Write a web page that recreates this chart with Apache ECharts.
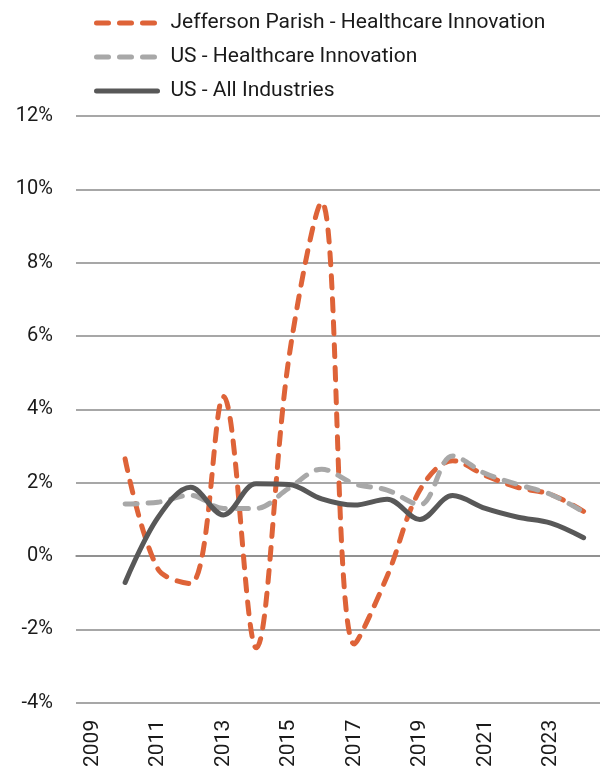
<!DOCTYPE html>
<html>
<head>
<meta charset="utf-8">
<script src="https://cdn.jsdelivr.net/npm/echarts@6/dist/echarts.min.js"></script>
<style>
  html, body { margin: 0; padding: 0; background: #ffffff; }
  #chart { width: 600px; height: 770px; }
</style>
</head>
<body>
<div id="chart"></div>
<script>
// Annual employment growth, % change
const years = ['2009', '2010', '2011', '2012', '2013', '2014', '2015', '2016',
               '2017', '2018', '2019', '2020', '2021', '2022', '2023', '2024'];

const jeffersonHealthcare = [null, 2.65, -0.35, -0.75, 4.35, -2.5, 5.4, 9.65,
                             -2.4, -0.55, 1.8, 2.6, 2.2, 1.87, 1.68, 1.22];
const usHealthcare = [null, 1.42, 1.47, 1.66, 1.3, 1.3, 1.85, 2.37,
                      1.97, 1.8, 1.4, 2.73, 2.25, 1.95, 1.68, 1.2];
const usAllIndustries = [null, -0.72, 1.05, 1.88, 1.12, 1.97, 1.95, 1.56,
                         1.39, 1.55, 1.0, 1.65, 1.3, 1.06, 0.9, 0.5];

const seriesNames = ['Jefferson Parish - Healthcare Innovation',
                     'US - Healthcare Innovation',
                     'US - All Industries'];
const seriesColors = ['#de6338', '#a8a8a8', '#585858'];
const seriesDashed = [true, true, false];

const yMin = -4, yMax = 12, yStep = 2;

const FONT = 'Roboto, "Liberation Sans", sans-serif';
const TEXT = '#1a1a1a';
const GRID = '#8a8a8a';
const DASH = [12, 11];

function lineStyleFor(i) {
  return {
    color: seriesColors[i],
    width: 5,
    type: seriesDashed[i] ? DASH : 'solid',
    cap: 'round',
    join: 'round'
  };
}

function lineSeries(i, data) {
  return {
    name: seriesNames[i],
    type: 'line',
    data: data,
    smooth: 0.35,
    symbol: 'none',
    connectNulls: false,
    lineStyle: lineStyleFor(i),
    itemStyle: { color: seriesColors[i] },
    emphasis: { disabled: true }
  };
}

const chart = echarts.init(document.getElementById('chart'), null, { renderer: 'canvas' });

chart.setOption({
  animation: false,
  backgroundColor: '#ffffff',
  textStyle: { fontFamily: FONT },
  legend: {
    orient: 'vertical',
    left: 89,
    top: 6,
    itemWidth: 61,
    itemHeight: 14,
    itemGap: 10,
    selectedMode: false,
    itemStyle: { opacity: 0, borderWidth: 0 },
    textStyle: {
      fontFamily: FONT,
      fontSize: 21,
      color: TEXT,
      lineHeight: 24,
      padding: [0, 0, 0, 8]
    },
    data: seriesNames.map(function (name, i) {
      return {
        name: name,
        itemStyle: { opacity: 0, borderWidth: 0 },
        lineStyle: lineStyleFor(i)
      };
    })
  },
  grid: {
    left: 76,
    right: -13.6,
    top: 116,
    bottom: 65,
    containLabel: false
  },
  xAxis: {
    type: 'category',
    data: years,
    boundaryGap: true,
    axisLine: { show: true, lineStyle: { color: GRID, width: 1.5 } },
    axisTick: { show: false },
    axisLabel: {
      interval: 1,
      rotate: 90,
      margin: 17,
      fontFamily: FONT,
      fontSize: 21,
      color: TEXT
    },
    splitLine: { show: false }
  },
  yAxis: {
    type: 'value',
    min: yMin,
    max: yMax,
    interval: yStep,
    axisLine: { show: false },
    axisTick: { show: false },
    axisLabel: {
      formatter: '{value}%',
      margin: 23,
      fontFamily: FONT,
      fontSize: 20,
      color: TEXT
    },
    splitLine: { show: true, lineStyle: { color: GRID, width: 1.5 } }
  },
  series: [
    lineSeries(0, jeffersonHealthcare),
    lineSeries(1, usHealthcare),
    lineSeries(2, usAllIndustries)
  ]
});
</script>
</body>
</html>
